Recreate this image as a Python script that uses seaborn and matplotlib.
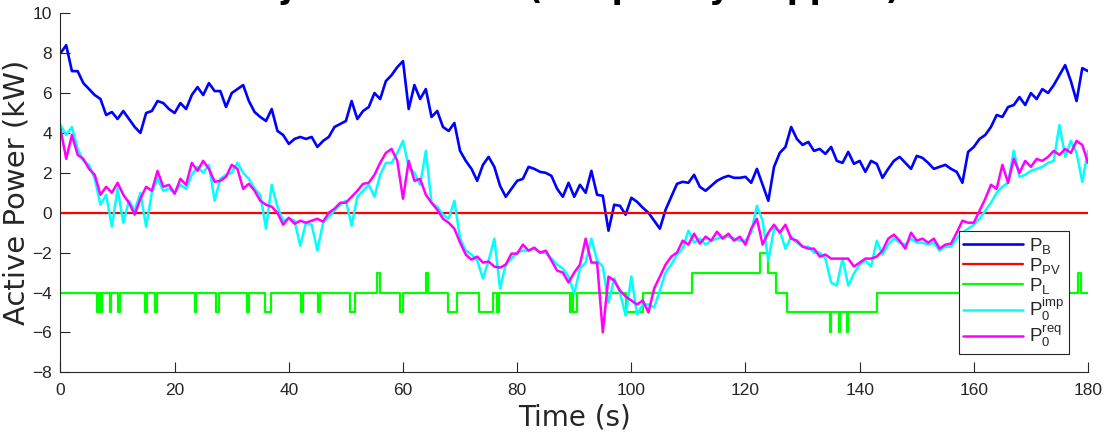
import matplotlib
matplotlib.use('Agg')
import matplotlib.pyplot as plt
import seaborn as sns

# время, шаг 1 с
time_s = list(range(0, 181))

# P_B, кВт
p_b = [8.0, 8.4, 7.1, 7.1, 6.5, 6.2, 5.9, 5.7, 4.9, 5.05,
       4.7, 5.1, 4.7, 4.3, 4.0, 5.0, 5.1, 5.6, 5.5, 5.2,
       5.0, 5.5, 5.2, 5.9, 6.3, 5.9, 6.5, 6.1, 6.1, 5.3,
       6.0, 6.2, 6.4, 5.6, 5.05, 4.8, 4.6, 5.2, 4.1, 3.9,
       3.45, 3.7, 3.8, 3.7, 3.8, 3.3, 3.6, 3.8, 4.3, 4.45,
       4.6, 5.6, 4.7, 5.1, 5.3, 6.0, 5.7, 6.6, 6.9, 7.3,
       7.6, 5.2, 6.4, 5.7, 6.2, 4.8, 5.1, 4.3, 4.1, 4.5,
       3.1, 2.6, 2.2, 1.6, 2.4, 2.8, 2.3, 1.35, 0.8, 1.2,
       1.6, 1.7, 2.3, 2.2, 2.05, 2.0, 1.85, 1.2, 0.8, 1.5,
       0.8, 1.4, 1.0, 2.1, 0.9, 0.85, -0.9, 0.4, 0.35, -0.1,
       0.75, 0.55, 0.25, 0.0, -0.4, -0.8, 0.15, 0.8, 1.45, 1.55,
       1.5, 1.9, 1.3, 1.1, 1.35, 1.6, 1.75, 1.85, 1.75, 1.75,
       1.8, 1.5, 2.2, 1.4, 0.6, 2.3, 3.0, 3.3, 4.3, 3.7,
       3.4, 3.55, 3.1, 3.2, 2.95, 3.3, 2.6, 2.5, 3.05, 2.45,
       2.6, 2.05, 2.6, 2.45, 1.75, 2.2, 2.6, 2.8, 2.5, 2.2,
       2.85, 2.75, 2.5, 2.2, 2.3, 2.4, 2.2, 2.05, 1.5, 3.05,
       3.3, 3.7, 3.9, 4.3, 4.9, 4.8, 5.3, 5.4, 5.8, 5.4,
       6.0, 5.7, 6.2, 6.0, 6.4, 6.9, 7.4, 6.6, 5.6, 7.25,
       7.1]

# P_0^imp
p0_imp = [4.4, 3.9, 4.3, 3.2, 2.6, 2.4, 1.7, 0.4, 0.9, -0.7,
          1.2, -0.5, 0.6, 0.1, 1.0, -0.7, 1.0, 1.7, 1.1, 1.2,
          1.0, 1.4, 1.2, 1.9, 2.3, 2.0, 2.4, 0.6, 1.7, 1.9,
          2.0, 2.5, 2.0, 1.7, 1.2, 0.9, -0.8, 1.4, 0.3, -0.4,
          -0.3, -0.4, -1.65, -0.5, -0.6, -1.9, -0.5, -0.2, 0.1, 0.4,
          0.6, -0.65, 0.8, 1.1, 1.4, 0.8, 1.9, 2.5, 2.5, 3.0,
          3.6, 2.3, 2.0, 1.4, 3.1, 0.5, 0.3, -0.1, -0.3, 0.6,
          -1.3, -1.9, -2.1, -2.4, -3.3, -2.4, -1.3, -3.8, -2.6, -2.3,
          -2.0, -1.9, -1.9, -1.8, -2.0, -2.0, -2.3, -2.6, -2.8, -3.2,
          -4.05, -2.8, -2.5, -1.3, -2.4, -2.7, -4.5, -3.3, -4.0, -5.15,
          -3.2, -5.1, -4.6, -4.6, -4.75, -3.9, -3.0, -2.6, -2.1, -1.8,
          -0.9, -1.5, -1.3, -1.6, -1.4, -1.3, -1.2, -1.2, -1.3, -1.4,
          -1.4, -1.0, 0.35, -0.4, -2.4, -0.8, -0.9, -1.8, -1.2, -1.5,
          -1.7, -1.7, -2.0, -2.0, -2.3, -3.5, -3.65, -2.3, -3.65, -3.05,
          -2.6, -2.4, -2.7, -1.4, -2.1, -1.6, -1.3, -1.5, -1.6, -1.3,
          -1.5, -1.5, -1.6, -1.5, -1.9, -1.7, -1.7, -1.3, -1.0, -0.8,
          -0.6, -0.3, 0.1, 0.5, 1.0, 1.3, 1.5, 3.1, 1.8, 1.9,
          2.1, 2.2, 2.3, 2.5, 2.6, 4.4, 2.8, 3.6, 3.0, 1.55,
          3.1]

# P_0^req
p0_req = [4.2, 2.7, 3.9, 2.9, 2.7, 2.2, 1.9, 0.9, 1.3, 1.0,
          1.5, 0.9, 0.5, -0.1, 0.7, 1.3, 1.1, 2.1, 1.3, 1.4,
          0.95, 1.7, 1.4, 2.5, 2.1, 2.6, 2.2, 1.55, 1.6, 1.8,
          2.4, 2.2, 1.2, 1.45, 1.1, 0.6, 0.4, 0.3, 0.0, -0.6,
          -0.25, -0.55, -0.4, -0.5, -0.4, -0.3, -0.45, 0.0, 0.2, 0.5,
          0.5, 0.8, 1.1, 1.45, 1.5, 1.9, 2.5, 3.0, 3.2, 2.6,
          0.7, 2.6, 1.6, 1.7, 0.9, 0.5, 0.15, -0.3, -0.5, -0.8,
          -1.5, -2.1, -2.35, -2.2, -2.5, -2.45, -2.7, -2.75, -2.6, -2.05,
          -2.05, -1.6, -1.9, -1.75, -2.0, -1.9, -2.4, -2.9, -3.0, -3.5,
          -3.0, -2.6, -1.3, -2.5, -2.5, -6.0, -3.2, -3.4, -3.9, -4.2,
          -4.4, -4.6, -4.4, -5.0, -3.8, -3.2, -2.6, -2.2, -2.0, -1.4,
          -1.6, -1.05, -1.55, -1.2, -1.4, -0.95, -1.3, -1.05, -1.4, -1.2,
          -1.6, -0.8, -0.3, -1.6, -1.0, -0.6, -1.0, -0.6, -1.3, -1.4,
          -1.7, -1.8, -1.8, -2.2, -2.1, -2.3, -2.3, -2.3, -2.3, -2.7,
          -2.5, -2.3, -2.3, -2.2, -1.9, -1.3, -1.1, -1.4, -1.8, -1.0,
          -1.4, -1.3, -1.5, -1.3, -1.8, -1.6, -1.55, -1.0, -0.4, -0.5,
          -0.5, 0.1, 0.7, 1.4, 1.2, 2.4, 1.5, 2.7, 2.0, 2.6,
          2.3, 2.7, 2.6, 2.8, 3.1, 2.9, 3.2, 3.0, 3.6, 3.4,
          2.5]

# P_PV ~ 0
pv_time = [0, 180]
p_pv = [0.0, 0.0]

# P_L: моменты переключения и уровни (ступеньки)
load_time = [0, 6.4, 6.8, 7.1, 7.3, 8.7, 8.9, 10.1, 10.4, 14.8,
             15.1, 16.6, 16.9, 23.6, 23.8, 27.2, 27.8, 32.6, 33.1, 35.8,
             36.8, 42.2, 42.4, 45.1, 45.4, 50.7, 51.6, 55.4, 55.9, 59.4,
             60.0, 64.0, 64.3, 67.8, 69.4, 73.4, 75.8, 76.5, 76.8, 89.2,
             89.5, 89.8, 90.4, 99.1, 102.0, 110.6, 122.5, 123.9, 125.3, 127.3,
             134.8, 135.0, 136.3, 136.5, 137.8, 138.0, 143.0, 178.3, 178.7, 180]
p_l = [-4, -5, -4, -5, -4, -5, -4, -5, -4, -5,
       -4, -5, -4, -5, -4, -5, -4, -5, -4, -5,
       -4, -5, -4, -5, -4, -5, -4, -3, -4, -5,
       -4, -3, -4, -5, -4, -5, -4, -5, -4, -5,
       -4, -5, -4, -5, -4, -3, -2, -3, -4, -5,
       -6, -5, -6, -5, -6, -5, -4, -3, -4, -4]

sns.set_theme(style='white')
plt.rcParams['font.family'] = ['Liberation Sans', 'DejaVu Sans']
dark = '#262626'

fig = plt.figure(figsize=(11.04, 4.34), dpi=100)
ax = fig.add_axes([0.0548, 0.1422, 0.9307, 0.8272])

sns.lineplot(x=time_s, y=p_b, ax=ax, color='#0000ff', linewidth=1.9,
             label=r'$\mathregular{P_B}$', estimator=None, sort=False)
sns.lineplot(x=pv_time, y=p_pv, ax=ax, color='#ff0000', linewidth=1.6,
             label=r'$\mathregular{P_{PV}}$', estimator=None, sort=False)
sns.lineplot(x=load_time, y=p_l, ax=ax, color='#00ff00', linewidth=1.6,
             label=r'$\mathregular{P_L}$', estimator=None, sort=False,
             drawstyle='steps-post')
sns.lineplot(x=time_s, y=p0_imp, ax=ax, color='#00ffff', linewidth=1.8,
             label=r'$\mathregular{P_0^{imp}}$', estimator=None, sort=False)
sns.lineplot(x=time_s, y=p0_req, ax=ax, color='#ff00ff', linewidth=1.8,
             label=r'$\mathregular{P_0^{req}}$', estimator=None, sort=False)

ax.set_xlim(0, 180)
ax.set_ylim(-8, 10)
ax.set_xticks(range(0, 181, 20))
ax.set_yticks(range(-8, 11, 2))
sns.despine(ax=ax)
for side in ['left', 'bottom']:
    ax.spines[side].set_color(dark)
    ax.spines[side].set_linewidth(0.8)
ax.tick_params(bottom=True, left=True, direction='in', length=7, width=0.8,
               colors=dark, labelsize=12.5)
ax.tick_params(axis='x', pad=8)
ax.tick_params(axis='y', pad=6)

# подписи осей - DejaVu пошире, ближе к разрядке как в MATLAB
ax.set_xlabel('Time (s)', fontsize=20, color=dark, family='DejaVu Sans')
ax.set_ylabel('Active Power (kW)', fontsize=21, color=dark, family='DejaVu Sans')
ax.xaxis.set_label_coords(0.5, -0.088)
ax.yaxis.set_label_coords(-0.029, 0.5)

# заголовок обрезан верхним краем, как на исходнике
fig.text(0.52, 1.005, 'Injected Power (Frequency Support)', family='DejaVu Sans',
         ha='center', va='baseline', fontsize=23, fontweight='bold', color='black')

leg = ax.legend(loc='lower right', bbox_to_anchor=(0.9815, 0.051), borderaxespad=0,
                fontsize=13.5, handlelength=3.2, handletextpad=0.3, labelspacing=0.0,
                borderpad=0.25, frameon=True, fancybox=False, framealpha=1,
                edgecolor=dark)
leg.get_frame().set_linewidth(0.8)

fig.savefig('out.png', dpi=100)
